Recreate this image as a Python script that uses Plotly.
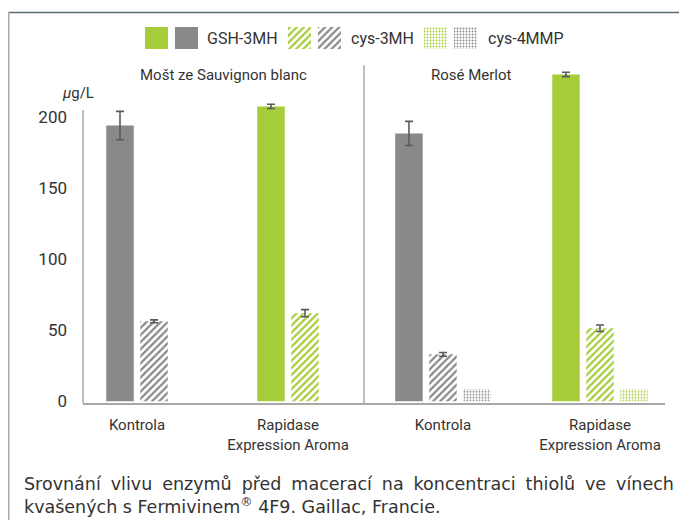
import plotly.graph_objects as go

# ---------------- data ----------------
conditions = ["Kontrola", "Rapidase<br>Expression Aroma"]
series_names = ["GSH-3MH", "cys-3MH", "cys-4MMP"]

# Mošt ze Sauvignon blanc (µg/L)
sauv_gsh3mh = [194, 207.5]
sauv_gsh3mh_err = [10, 1.5]
sauv_cys3mh = [56.3, 62]
sauv_cys3mh_err = [1, 2.5]

# Rosé Merlot (µg/L)
merlot_gsh3mh = [188.5, 230]
merlot_gsh3mh_err = [8.5, 1.5]
merlot_cys3mh = [33, 51.4]
merlot_cys3mh_err = [1.3, 2.3]
merlot_cys4mmp = [8.5, 8.5]

panel_titles = ["Mošt ze Sauvignon blanc", "Rosé Merlot"]
y_tickvals = [0, 50, 100, 150, 200]
caption_lines = [
    "Srovnání vlivu enzymů před macerací na koncentraci thiolů ve vínech",
    "kvašených s Fermivinem<sup>®</sup> 4F9. Gaillac, Francie.",
]

# ---------------- styling ----------------
W, H = 679, 528
SY = 1.016  # vertical layout stretch
GREEN = "#a6cd39"
GRAY = "#88898b"
ERR = "#5a5a5a"
AXIS = "#a8a8a8"
TXT = "#333333"
NARROW = "Roboto, Liberation Sans, sans-serif"
CAPF = "DejaVu Sans, Noto Sans, sans-serif"
cond_colors = [GRAY, GREEN]


def fx(px):
    return px / W


def fy(py):
    return 1 - py * SY / H


BAR_PX, SLOT_PX = 27.5, 34
PPU = [151, 157]  # pixels per category unit for each panel

patterns = {
    "GSH-3MH": dict(shape=""),
    "cys-3MH": dict(shape="/", size=5, solidity=0.45),
    "cys-4MMP": dict(shape=".", size=3, solidity=0.3),
}


def marker_for(name, colors):
    p = patterns[name]
    if p["shape"] == "":
        return dict(color=colors, line=dict(width=0))
    return dict(color="white", line=dict(width=0),
                pattern=dict(shape=p["shape"], size=p["size"], solidity=p["solidity"],
                             fgcolor=colors, bgcolor="white", fillmode="replace"))


fig = go.Figure()

panels = [
    ("x", [("GSH-3MH", sauv_gsh3mh, sauv_gsh3mh_err),
           ("cys-3MH", sauv_cys3mh, sauv_cys3mh_err)]),
    ("x2", [("GSH-3MH", merlot_gsh3mh, merlot_gsh3mh_err),
            ("cys-3MH", merlot_cys3mh, merlot_cys3mh_err),
            ("cys-4MMP", merlot_cys4mmp, None)]),
]

for pi, (xa, traces) in enumerate(panels):
    n = len(traces)
    ppu = PPU[pi]
    for i, (name, vals, err) in enumerate(traces):
        off_px = -(n - 1) * SLOT_PX / 2 + i * SLOT_PX - BAR_PX / 2
        kw = {}
        if err is not None:
            kw["error_y"] = dict(type="data", array=err, color=ERR, thickness=1.6, width=4)
        fig.add_trace(go.Bar(
            x=conditions, y=vals, name=name, xaxis=xa, yaxis="y",
            width=BAR_PX / ppu, offset=off_px / ppu,
            marker=marker_for(name, cond_colors), showlegend=False,
            **kw))

# ---------- custom legend swatches (two colours per series) ----------
LEG_X = [145, 288, 424]
LEG_TXT_X = [205, 349, 486]
SW = 23
for k, name in enumerate(series_names):
    for j, col in enumerate([GREEN, GRAY]):
        cx = LEG_X[k] + j * (SW + 7) + SW / 2
        fig.add_trace(go.Bar(x=[cx], y=[1], width=SW, xaxis="x3", yaxis="y3",
                             marker=marker_for(name, [col]), showlegend=False,
                             hoverinfo="skip"))

fig.update_layout(
    width=W, height=H, margin=dict(l=0, r=0, t=0, b=0),
    paper_bgcolor="white", plot_bgcolor="rgba(0,0,0,0)",
    barmode="overlay", showlegend=False,
    xaxis=dict(domain=[fx(83), fx(364)], type="category", range=[-0.3576, 1.5033],
               anchor="y", showline=True, linecolor=AXIS, linewidth=2, ticks="",
               tickfont=dict(family=NARROW, size=15, color=TXT), ticklabelstandoff=7,
               showgrid=False, zeroline=False),
    xaxis2=dict(domain=[fx(364), fx(665)], type="category", range=[-0.503, 1.414],
                anchor="y", showline=True, linecolor=AXIS, linewidth=2, ticks="",
                tickfont=dict(family=NARROW, size=15, color=TXT), ticklabelstandoff=7,
                showgrid=False, zeroline=False),
    yaxis=dict(domain=[fy(403), fy(60.2)], range=[-1.4, 240], anchor="x",
               tickvals=y_tickvals, ticks="", showgrid=False, zeroline=False, showline=False,
               tickfont=dict(family=NARROW, size=17, color=TXT), ticklabelstandoff=15),
    xaxis3=dict(domain=[0, 1], range=[0, W], visible=False, anchor="y3"),
    yaxis3=dict(domain=[fy(49), fy(27)], range=[0, 1], visible=False, anchor="x3"),
)

shapes = [
    # y-axis line
    dict(type="line", xref="paper", yref="y", x0=fx(83), x1=fx(83), y0=-1.4, y1=205,
         line=dict(color=AXIS, width=1.5)),
    # panel divider
    dict(type="line", xref="paper", yref="y", x0=fx(364), x1=fx(364), y0=-1.4, y1=236.5,
         line=dict(color=AXIS, width=1.5)),
    # frame
    dict(type="line", xref="paper", yref="paper", x0=fx(8), x1=1, y0=fy(12.5), y1=fy(12.5),
         line=dict(color="#5a6b74", width=1.5)),
    dict(type="line", xref="paper", yref="paper", x0=fx(8.75), x1=fx(8.75), y0=fy(12), y1=0,
         line=dict(color="#a9a9a9", width=1.5)),
]
fig.update_layout(shapes=shapes)

ann = []
for k, name in enumerate(series_names):
    ann.append(dict(x=fx(LEG_TXT_X[k]), y=fy(38), xref="paper", yref="paper", text=name,
                    showarrow=False, xanchor="left", yanchor="middle",
                    font=dict(family=NARROW, size=16, color=TXT)))
ann.append(dict(x=fx(223), y=fy(75), xref="paper", yref="paper", text=panel_titles[0],
                showarrow=False, xanchor="center", yanchor="middle",
                font=dict(family=NARROW, size=15, color=TXT)))
ann.append(dict(x=fx(471), y=fy(75), xref="paper", yref="paper", text=panel_titles[1],
                showarrow=False, xanchor="center", yanchor="middle",
                font=dict(family=NARROW, size=15, color=TXT)))
ann.append(dict(x=fx(78), y=fy(93), xref="paper", yref="paper", text="<i>μ</i>g/L",
                showarrow=False, xanchor="center", yanchor="middle",
                font=dict(family=NARROW, size=15, color=TXT)))
# first caption line is justified in the reference: widen its word gaps slightly
cap1 = caption_lines[0].replace(" ", " \u2005")
for text, yy in [(cap1, 484), (caption_lines[1], 506)]:
    ann.append(dict(x=fx(22), y=fy(yy), xref="paper", yref="paper", text=text,
                    showarrow=False, xanchor="left", yanchor="middle",
                    font=dict(family=CAPF, size=17.5, color=TXT)))
fig.update_layout(annotations=ann)

fig.write_html("out.html", config={"displayModeBar": False},
               post_script="document.body.style.margin='0';")
